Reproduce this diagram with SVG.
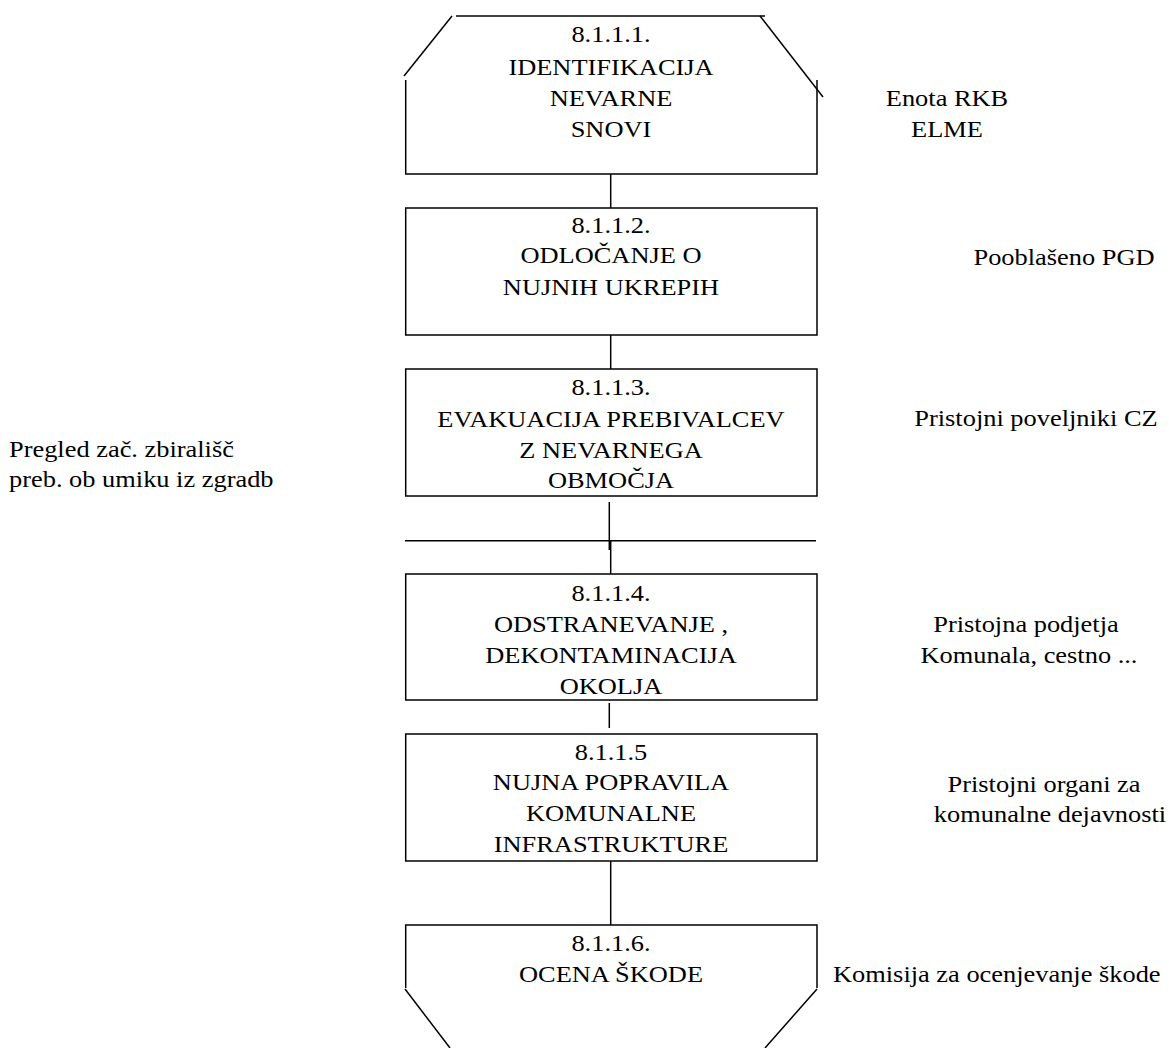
<svg xmlns="http://www.w3.org/2000/svg" width="1169" height="1048" viewBox="0 0 1169 1048">
<style>
.s{fill:none;stroke:#000;stroke-width:1.5}
text{font-family:"Liberation Serif","Times New Roman",serif;font-size:24px;fill:#000}
.c{text-anchor:middle}
.l{text-anchor:start}
</style>
<rect width="1169" height="1048" fill="#fff"/>
<g id="connectors">
<line class="s" x1="610.7" y1="174" x2="610.7" y2="208"/>
<line class="s" x1="610.7" y1="335" x2="610.7" y2="369"/>
<line class="s" x1="609.3" y1="502" x2="609.3" y2="550"/>
<line class="s" x1="405" y1="540.7" x2="816" y2="540.7"/>
<line class="s" x1="610.7" y1="540.7" x2="610.7" y2="574"/>
<line class="s" x1="609.3" y1="703" x2="609.3" y2="728"/>
<line class="s" x1="610.7" y1="861" x2="610.7" y2="925"/>
</g>
<g id="n1">
<line class="s" x1="456" y1="16" x2="765" y2="16"/>
<line class="s" x1="452" y1="16" x2="404" y2="76"/>
<line class="s" x1="760" y1="16" x2="823" y2="97"/>
<polyline class="s" points="405.7,80 405.7,174 817,174 817,80"/>
<text class="c" transform="translate(611 0) scale(1.1 1)"><tspan x="0" y="42">8.1.1.1.</tspan><tspan x="0" y="75">IDENTIFIKACIJA</tspan><tspan x="0" y="106">NEVARNE</tspan><tspan x="0" y="137">SNOVI</tspan></text>
</g>
<g id="n2">
<rect class="s" x="405.7" y="208" width="411.3" height="127"/>
<text class="c" transform="translate(611 0) scale(1.1 1)"><tspan x="0" y="233">8.1.1.2.</tspan><tspan x="0" y="263">ODLOČANJE O</tspan><tspan x="0" y="295">NUJNIH UKREPIH</tspan></text>
</g>
<g id="n3">
<rect class="s" x="405.7" y="369" width="411.3" height="127"/>
<text class="c" transform="translate(611 0) scale(1.1 1)"><tspan x="0" y="395">8.1.1.3.</tspan><tspan x="0" y="427">EVAKUACIJA PREBIVALCEV</tspan><tspan x="0" y="458">Z NEVARNEGA</tspan><tspan x="0" y="488">OBMOČJA</tspan></text>
</g>
<g id="n4">
<rect class="s" x="405.7" y="574" width="411.3" height="126"/>
<text class="c" transform="translate(611 0) scale(1.1 1)"><tspan x="0" y="601">8.1.1.4.</tspan><tspan x="0" y="632">ODSTRANEVANJE ,</tspan><tspan x="0" y="663">DEKONTAMINACIJA</tspan><tspan x="0" y="694">OKOLJA</tspan></text>
</g>
<g id="n5">
<rect class="s" x="405.7" y="734" width="411.3" height="127"/>
<text class="c" transform="translate(611 0) scale(1.1 1)"><tspan x="0" y="760">8.1.1.5</tspan><tspan x="0" y="790">NUJNA POPRAVILA</tspan><tspan x="0" y="821">KOMUNALNE</tspan><tspan x="0" y="852">INFRASTRUKTURE</tspan></text>
</g>
<g id="n6">
<polyline class="s" points="405.7,988 405.7,925 817,925 817,988"/>
<line class="s" x1="405" y1="989" x2="450" y2="1048"/>
<line class="s" x1="817" y1="989" x2="765" y2="1048"/>
<text class="c" transform="translate(611 0) scale(1.1 1)"><tspan x="0" y="951">8.1.1.6.</tspan><tspan x="0" y="982">OCENA ŠKODE</tspan></text>
</g>
<g id="labels">
<text class="c" transform="translate(947 0) scale(1.1 1)"><tspan x="0" y="106">Enota RKB</tspan><tspan x="0" y="137">ELME</tspan></text>
<text class="c" transform="translate(1064 0) scale(1.1 1)"><tspan x="0" y="265">Pooblašeno PGD</tspan></text>
<text class="c" transform="translate(1036 0) scale(1.1 1)"><tspan x="0" y="426">Pristojni poveljniki CZ</tspan></text>
<text class="c" transform="translate(1026 0) scale(1.1 1)"><tspan x="0" y="632">Pristojna podjetja</tspan></text>
<text class="c" transform="translate(1029 0) scale(1.1 1)"><tspan x="0" y="663">Komunala, cestno ...</tspan></text>
<text class="c" transform="translate(1044 0) scale(1.1 1)"><tspan x="0" y="792">Pristojni organi za</tspan></text>
<text class="c" transform="translate(1050 0) scale(1.1 1)"><tspan x="0" y="822">komunalne dejavnosti</tspan></text>
<text class="l" transform="translate(833 0) scale(1.1 1)"><tspan x="0" y="982">Komisija za ocenjevanje škode</tspan></text>
<text class="l" transform="translate(9 0) scale(1.1 1)"><tspan x="0" y="457">Pregled zač. zbirališč</tspan><tspan x="0" y="487">preb. ob umiku iz zgradb</tspan></text>
</g>
</svg>
